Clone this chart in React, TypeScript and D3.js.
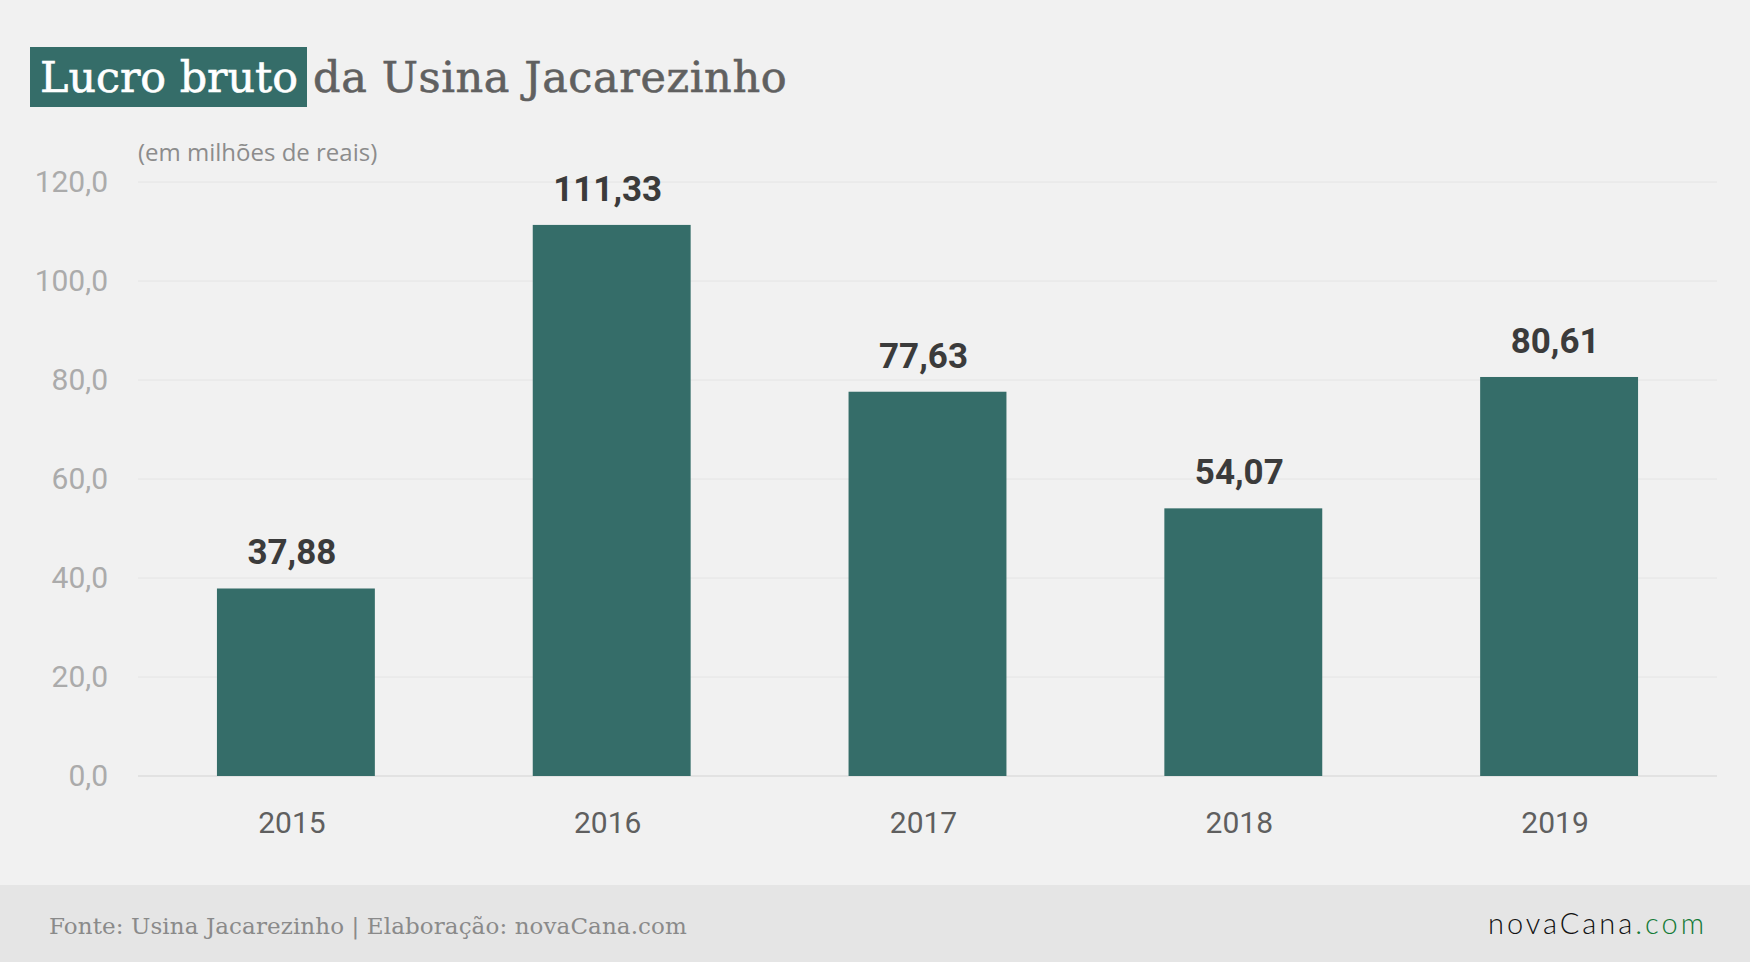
import React from 'react';
import * as d3 from 'd3';

const years = ['2015', '2016', '2017', '2018', '2019'];
const lucroBruto = [37.88, 111.33, 77.63, 54.07, 80.61];
const yTicks = [0, 20, 40, 60, 80, 100, 120];

const titleHighlight = 'Lucro bruto';
const titleRest = 'da Usina Jacarezinho';
const subtitle = '(em milhões de reais)';
const sourceNote = 'Fonte: Usina Jacarezinho | Elaboração: novaCana.com';

const W = 1750;
const H = 962;

const style = {
  bg: '#f1f1f1',
  footerBg: '#e5e5e5',
  bar: '#356d69',
  grid: '#e4e4e4',
  axisBase: '#dcdcdc',
  yTick: '#ababab',
  xTick: '#5f5f5f',
  valueLabel: '#3b3b3b',
  title: '#606060',
  subtitle: '#8c8c8c',
  source: '#8a8a8a',
  slab: '"DejaVu Serif", serif',
  sans: 'Roboto, "Open Sans", sans-serif',
  subSans: '"Open Sans", Roboto, sans-serif',
  logo: 'Lato, "Noto Sans", sans-serif',
};

const margin = { top: 182, right: 33, bottom: 186, left: 138 };
// labels in the original sit a little left of bar centres
const labelShift = -4;

const fmtTick = (d: number) => d.toFixed(1).replace('.', ',');
const fmtValue = (d: number) => d.toFixed(2).replace('.', ',');

export default function App() {
  const xScale = d3
    .scaleBand<string>()
    .domain(years)
    .range([margin.left, W - margin.right])
    .paddingInner(0.5)
    .paddingOuter(0.25);

  const yScale = d3
    .scaleLinear()
    .domain([0, 120])
    .range([H - margin.bottom, margin.top]);

  return (
    <div style={{ position: 'fixed', left: 0, top: 0 }}>
      <svg width={W} height={H} viewBox={`0 0 ${W} ${H}`} style={{ display: 'block' }}>
        <rect x={0} y={0} width={W} height={H} fill={style.bg} />
        <rect x={0} y={885} width={W} height={H - 885} fill={style.footerBg} />

        {/* title */}
        <rect x={30} y={47} width={277} height={60} fill={style.bar} />
        <text x={40} y={92} fontFamily={style.slab} fontSize={42} fill="#ffffff"
          stroke="#ffffff" strokeWidth={0.6} textLength={258} lengthAdjust="spacingAndGlyphs">
          {titleHighlight}
        </text>
        <text x={313} y={92} fontFamily={style.slab} fontSize={43} letterSpacing={0.6}
          fill={style.title} stroke={style.title} strokeWidth={0.6}>
          {titleRest}
        </text>
        <text x={138} y={161} fontFamily={style.subSans} fontSize={24} fill={style.subtitle}>
          {subtitle}
        </text>

        {/* gridlines + y ticks */}
        {yTicks.map(t => (
          <g key={t}>
            <line
              x1={margin.left}
              x2={W - margin.right}
              y1={yScale(t)}
              y2={yScale(t)}
              stroke={t === 0 ? style.axisBase : style.grid}
              strokeWidth={t === 0 ? 1.5 : 1}
            />
            <text x={108} y={yScale(t) + 10} textAnchor="end" fontFamily={style.sans}
              fontSize={30} fill={style.yTick}>
              {fmtTick(t)}
            </text>
          </g>
        ))}

        {/* bars */}
        {years.map((yr, i) => (
          <g key={yr}>
            <rect
              x={xScale(yr)!}
              y={yScale(lucroBruto[i])}
              width={xScale.bandwidth()}
              height={yScale(0) - yScale(lucroBruto[i])}
              fill={style.bar}
            />
            <text
              x={xScale(yr)! + xScale.bandwidth() / 2 + labelShift}
              y={yScale(lucroBruto[i]) - 24}
              textAnchor="middle"
              fontFamily={style.sans}
              fontWeight="bold"
              fontSize={35}
              fill={style.valueLabel}
            >
              {fmtValue(lucroBruto[i])}
            </text>
            <text
              x={xScale(yr)! + xScale.bandwidth() / 2 + labelShift}
              y={833}
              textAnchor="middle"
              fontFamily={style.sans}
              fontSize={30}
              fill={style.xTick}
            >
              {yr}
            </text>
          </g>
        ))}

        {/* footer */}
        <text x={49} y={934} fontFamily={style.slab} fontSize={23} letterSpacing={0.1}
          fill={style.source}>
          {sourceNote}
        </text>
        <text x={1707} y={934} textAnchor="end" fontFamily={style.logo} fontWeight={300}
          fontSize={29} letterSpacing={3} fill="#111111">
          novaCana<tspan fill="#137a36">.com</tspan>
        </text>
      </svg>
    </div>
  );
}
